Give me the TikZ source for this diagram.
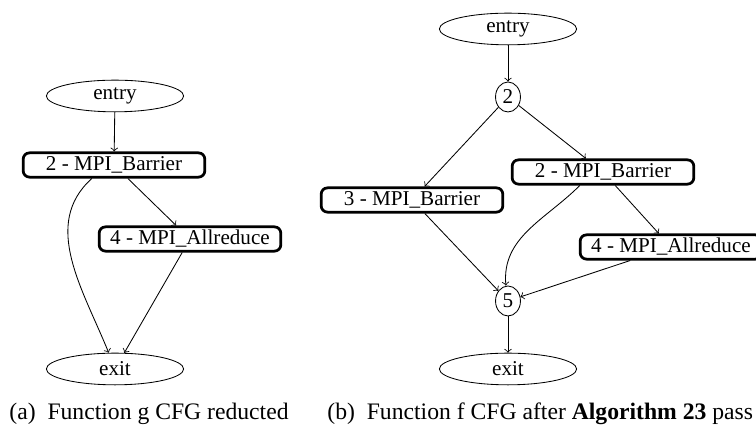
\documentclass[tikz,border=0pt]{standalone}
\usepackage{fontspec}
\setmainfont{Liberation Serif}
\usetikzlibrary{shapes}

\begin{document}
\begin{tikzpicture}[
            x=0.4735pt, y=-0.4735pt,
            font=\fontsize{10}{12}\selectfont,
            block/.style={
                    rectangle,
                    rounded corners=3pt,
                    draw,
                    line width=1.3pt,
                    minimum width=86pt,
                    minimum height=11.5pt,
                    inner sep=1pt
                },
            term/.style={
                    ellipse,
                    draw,
                    minimum width=65pt,
                    minimum height=15pt,
                    inner sep=0pt
                },
            junc/.style={
                    ellipse,
                    draw,
                    minimum width=11.8pt,
                    minimum height=14.2pt,
                    inner sep=0pt
                },
            arrow/.style={->, >=to, line width=0.4pt},
            subcap/.style={anchor=base west, inner sep=0pt, font=\fontsize{11.2}{13}\selectfont}
        ]
        \useasboundingbox (0,0) rectangle (756,425);

        % (a) function g
        \node[term] (gentry) at (115,96) {entry};
        \node[block] (gbar) at (114,165) {2 - MPI\_Barrier};
        \node[block] (gred) at (190,239) {4 - MPI\_Allreduce};
        \node[term] (gexit) at (115,369) {exit};

        \draw[arrow] (gentry) -- (gbar);
        \draw[arrow] (gbar) -- (gred);
        \draw[arrow] ([xshift=-10.5pt]gbar.south) to[out=222, in=112] ([xshift=-3pt]gexit.north);
        \draw[arrow] (gred) -- (gexit);

        % (b) function f
        \node[term] (fentry) at (508,29) {entry};
        \node[junc] (fj2) at (508,97) {2};
        \node[block] (fbar3) at (412,200) {3 - MPI\_Barrier};
        \node[block] (fbar2) at (603,172) {2 - MPI\_Barrier};
        \node[block] (fred) at (671,247) {4 - MPI\_Allreduce};
        \node[junc] (fj5) at (508,301) {5};
        \node[term] (fexit) at (508,369) {exit};

        \draw[arrow] (fentry) -- (fj2);
        \draw[arrow] (fj2) -- (fbar3);
        \draw[arrow] (fj2) -- (fbar2);
        \draw[arrow] (fbar3) -- (fj5);
        \draw[arrow] ([xshift=-11pt]fbar2.south) to[out=225, in=95] ([xshift=-1pt]fj5.north);
        \draw[arrow] (fbar2) -- (fred);
        \draw[arrow] (fred) -- (fj5);
        \draw[arrow] (fj5) -- (fexit);

        % captions
        \node[subcap] (capa) at (9,420) {(a)\hspace{0.5em}Function g CFG reducted};
        \node[subcap] (capb) at (327,420) {(b)\hspace{0.5em}Function f CFG after \textbf{Algorithm 23} pass};
    \end{tikzpicture}
\end{document}
